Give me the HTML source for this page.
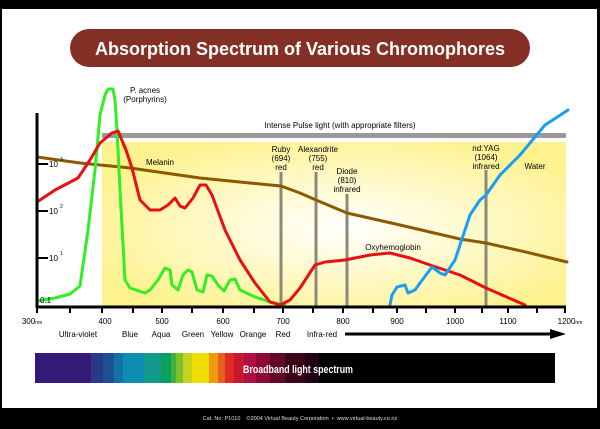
<!DOCTYPE html>
<html><head><meta charset="utf-8"><style>
html,body{margin:0;padding:0;background:#fff;}
body{width:600px;height:429px;overflow:hidden;position:relative;font-family:"Liberation Sans",sans-serif;}
</style></head><body>
<svg width="600" height="429" viewBox="0 0 600 429" xmlns="http://www.w3.org/2000/svg" style="position:absolute;left:0;top:0">
<defs>
<radialGradient id="yg" cx="0.52" cy="0.52" r="0.6">
<stop offset="0" stop-color="#ffffff"/>
<stop offset="0.35" stop-color="#fffbd8"/>
<stop offset="1" stop-color="#fdf28e"/>
</radialGradient>
</defs>
<rect x="0" y="0" width="600" height="9" fill="#000"/>
<rect x="0" y="0" width="2" height="429" fill="#000"/>
<rect x="597" y="0" width="3" height="429" fill="#000"/>
<rect x="0" y="408" width="600" height="21" fill="#000"/>
<rect x="70" y="29" width="460" height="38" rx="19" fill="#843026"/>
<text x="300" y="55" text-anchor="middle" fill="#fff" font-size="18" font-weight="bold" style="font-stretch:condensed" textLength="410" lengthAdjust="spacingAndGlyphs">Absorption Spectrum of Various Chromophores</text>
<rect x="102" y="142" width="464" height="165" fill="url(#yg)"/>
<rect x="102" y="133" width="464" height="5" fill="#999"/>
<text x="340" y="128" text-anchor="middle" font-size="8" fill="#000">Intense Pulse light (with appropriate filters)</text>
<g stroke="#8a8a7a" stroke-width="3">
<line x1="281" y1="172" x2="281" y2="307"/>
<line x1="316" y1="172" x2="316" y2="307"/>
<line x1="347" y1="194" x2="347" y2="307"/>
<line x1="486" y1="170" x2="486" y2="307"/>
</g>
<g font-size="8" text-anchor="middle" fill="#000">
<text x="281" y="152">Ruby</text><text x="281" y="161">(694)</text><text x="281" y="170">red</text>
<text x="318" y="152">Alexandrite</text><text x="318" y="161">(755)</text><text x="318" y="170">red</text>
<text x="347" y="174">Diode</text><text x="347" y="183">(810)</text><text x="347" y="192">infrared</text>
<text x="486" y="151">nd:YAG</text><text x="486" y="160">(1064)</text><text x="486" y="169">infrared</text>
<text x="535" y="169">Water</text>
<text x="160" y="165">Melanin</text>
<text x="393" y="250">Oxyhemoglobin</text>
<text x="145" y="93">P. acnes</text><text x="145" y="102">(Porphyrins)</text>
</g>
<g fill="none" stroke-width="3" stroke-linejoin="round" stroke-linecap="round">
<polyline stroke="#8b5a00" points="37,157 80,163 130,168 200,178 250,183 281,186 300,193 316,200 347,213 400,225 460,239 486,243 530,253 567,262"/>
<polyline stroke="#33ee22" points="37,301 55,298 70,294 80,286 88,230 95,170 100,115 105,95 108,89 113,89 115,100 117,130 120,190 125,280 130,288 145,293 150,290 158,280 165,268 170,270 172,285 178,290 183,275 188,270 192,272 197,290 203,292 207,275 212,276 218,285 224,291 230,280 235,279 240,290 255,297 270,302 285,305"/>
<polyline stroke="#e81010" points="37,202 55,190 78,178 90,160 100,143 112,133 118,131 126,150 132,168 140,200 150,210 160,210 168,205 175,198 180,206 185,208 193,198 200,185 206,185 212,195 225,230 240,260 255,283 270,302 280,305 290,300 300,288 315,265 325,262 345,260 370,255 390,253 410,258 430,265 460,275 486,288 525,305"/>
<polyline stroke="#1a9ff0" points="390,305 392,295 397,287 405,285 408,293 415,290 420,283 432,267 440,273 445,275 455,260 470,215 480,200 486,195 500,175 520,155 545,125 568,110"/>
</g>
<g stroke="#000">
<line x1="37" y1="113" x2="37" y2="308" stroke-width="3"/>
<line x1="37" y1="307" x2="566" y2="307" stroke-width="3"/>
<line x1="37" y1="164" x2="48" y2="164" stroke-width="2"/>
<line x1="37" y1="211" x2="48" y2="211" stroke-width="2"/>
<line x1="37" y1="258" x2="48" y2="258" stroke-width="2"/>
<g stroke-width="2">
<line x1="37" y1="307" x2="37" y2="313"/><line x1="70" y1="307" x2="70" y2="313"/>
<line x1="102" y1="307" x2="102" y2="313"/><line x1="133" y1="307" x2="133" y2="313"/>
<line x1="162" y1="307" x2="162" y2="313"/><line x1="192" y1="307" x2="192" y2="313"/>
<line x1="223" y1="307" x2="223" y2="313"/><line x1="254" y1="307" x2="254" y2="313"/>
<line x1="283" y1="307" x2="283" y2="313"/><line x1="313" y1="307" x2="313" y2="313"/>
<line x1="343" y1="307" x2="343" y2="313"/><line x1="373" y1="307" x2="373" y2="313"/>
<line x1="397" y1="307" x2="397" y2="313"/><line x1="426" y1="307" x2="426" y2="313"/>
<line x1="455" y1="307" x2="455" y2="313"/><line x1="482" y1="307" x2="482" y2="313"/>
<line x1="508" y1="307" x2="508" y2="313"/><line x1="537" y1="307" x2="537" y2="313"/>
<line x1="565" y1="307" x2="565" y2="313"/>
</g>
</g>
<g font-size="8" fill="#000">
<text x="49" y="167">10</text><text x="60" y="161" font-size="5">3</text>
<text x="49" y="214">10</text><text x="60" y="208" font-size="5">2</text>
<text x="49" y="261">10</text><text x="60" y="255" font-size="5">1</text>
<text x="40" y="303">0.1</text>
</g>
<g font-size="8" fill="#000" text-anchor="middle">
<text x="32" y="324">300<tspan font-size="5">nm</tspan></text>
<text x="105" y="324">400</text><text x="162" y="324">500</text><text x="223" y="324">600</text>
<text x="283" y="324">700</text><text x="343" y="324">800</text><text x="397" y="324">900</text>
<text x="455" y="324">1000</text><text x="508" y="324">1100</text>
<text x="570" y="324">1200<tspan font-size="5">nm</tspan></text>
<text x="78" y="337">Ultra-violet</text><text x="130" y="337">Blue</text><text x="161" y="337">Aqua</text>
<text x="193" y="337">Green</text><text x="222" y="337">Yellow</text><text x="253" y="337">Orange</text>
<text x="283" y="337">Red</text><text x="322" y="337">Infra-red</text>
</g>
<line x1="345" y1="334" x2="552" y2="334" stroke="#000" stroke-width="3"/>
<polygon points="550,329 566,334 550,339" fill="#000"/>
<g>
<rect x="35" y="353" width="520" height="30" fill="#000"/>
<rect x="35" y="353" width="56" height="30" fill="#341a78"/>
<rect x="91" y="353" width="12" height="30" fill="#2a3888"/>
<rect x="103" y="353" width="11" height="30" fill="#1f4f98"/>
<rect x="114" y="353" width="9" height="30" fill="#1670a8"/>
<rect x="123" y="353" width="21" height="30" fill="#0e8bb0"/>
<rect x="144" y="353" width="17" height="30" fill="#139a8a"/>
<rect x="161" y="353" width="10" height="30" fill="#07a060"/>
<rect x="171" y="353" width="5" height="30" fill="#45b040"/>
<rect x="176" y="353" width="7" height="30" fill="#80c030"/>
<rect x="183" y="353" width="9" height="30" fill="#c6d420"/>
<rect x="192" y="353" width="17" height="30" fill="#f0dc00"/>
<rect x="209" y="353" width="9" height="30" fill="#ee9a10"/>
<rect x="218" y="353" width="7" height="30" fill="#e85e1c"/>
<rect x="225" y="353" width="9" height="30" fill="#e02a24"/>
<rect x="234" y="353" width="10" height="30" fill="#c81830"/>
<rect x="244" y="353" width="12" height="30" fill="#b01040"/>
<rect x="256" y="353" width="14" height="30" fill="#8c0a34"/>
<rect x="270" y="353" width="15" height="30" fill="#640828"/>
<rect x="285" y="353" width="20" height="30" fill="#3c0418"/>
<rect x="305" y="353" width="14" height="30" fill="#200210"/>
<text x="298" y="373" text-anchor="middle" fill="#fff" font-size="11" font-weight="bold" textLength="110" lengthAdjust="spacingAndGlyphs">Broadband light spectrum</text>
</g>
<text x="300" y="420" text-anchor="middle" fill="#ddd" font-size="5.5">Cat. No: P1010 &#160;&#160; ©2004 Virtual Beauty Corporation &#160;•&#160; www.virtual-beauty.co.nz</text>
</svg>
</body></html>
